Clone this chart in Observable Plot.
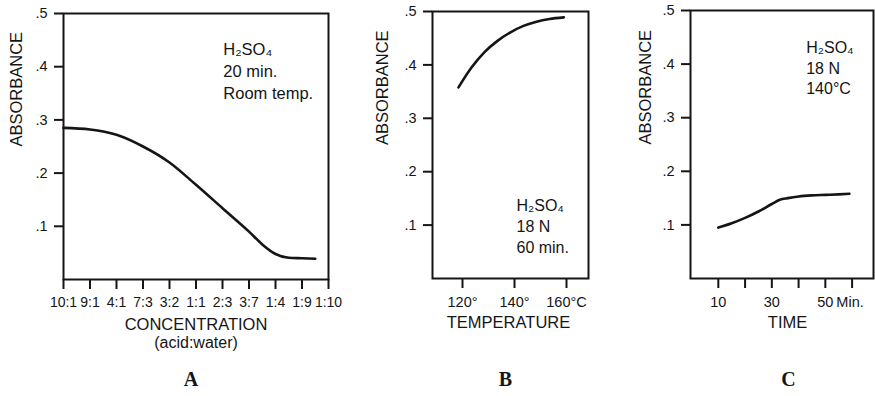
<!DOCTYPE html>
<html>
<head>
<meta charset="utf-8">
<script src="https://cdn.jsdelivr.net/npm/d3@7"></script>
<script src="https://cdn.jsdelivr.net/npm/@observablehq/plot@0.6"></script>
<style>
html, body { margin: 0; padding: 0; background: #fff; }
#root { position: relative; width: 875px; height: 396px; overflow: hidden; background: #fff; }
#root > svg { position: absolute; top: 0; }
</style>
</head>
<body>
<div id="root"></div>
<script>
// ---------- data ----------
const absTicks = [0.1, 0.2, 0.3, 0.4, 0.5];

// Panel A: absorbance vs acid:water concentration
const ratioLabels = ["10:1", "9:1", "4:1", "7:3", "3:2", "1:1", "2:3", "3:7", "1:4", "1:9", "1:10"];
const concPos = [0, 1, 2, 3, 4, 5, 6, 7, 7.5, 8, 8.5, 9, 9.5];
const concAbs = [0.285, 0.282, 0.272, 0.250, 0.220, 0.178, 0.134, 0.090, 0.066, 0.048, 0.041, 0.040, 0.039];
const noteA = "H₂SO₄\n20 min.\nRoom temp.";

// Panel B: absorbance vs temperature
const tempTicks = [120, 140, 160];
const tempLabels = ["120°", "140°", "160°C"];
const tempC = [120, 125, 130, 135, 140, 145, 150, 155, 160.5];
const tempAbs = [0.358, 0.395, 0.424, 0.445, 0.461, 0.473, 0.481, 0.486, 0.489];
const noteB = "H₂SO₄\n18 N\n60 min.";

// Panel C: absorbance vs time
const timeTicks = [10, 20, 30, 40, 50, 60];
const timeLabels = ["10", "", "30", "", "50", ""];
const timeMin = [10, 15, 20, 25, 30, 33, 36, 40, 45, 50, 55, 59];
const timeAbs = [0.095, 0.103, 0.113, 0.125, 0.139, 0.147, 0.150, 0.153, 0.155, 0.156, 0.157, 0.158];
const noteC = "H₂SO₄\n18 N\n140°C";

// ---------- styling ----------
const sans = "'Liberation Sans', Arial, Helvetica, sans-serif";
const serif = "'Liberation Serif', 'Times New Roman', serif";
const ink = "#151515";
const root = document.getElementById("root");

function yAxis() {
  return Plot.axisY({
    ticks: absTicks, tickSize: 9, tickPadding: 7, strokeWidth: 2, fontSize: 14.5,
    tickFormat: d => d3.format(".1f")(d).slice(1), label: null
  });
}
function absLabel(dx) {
  return Plot.text(["ABSORBANCE"], {text: d => d, frameAnchor: "left", rotate: -90, dx, fontSize: 16.5});
}
function letter(L, dx, dy) {
  return Plot.text([L], {text: d => d, frameAnchor: "bottom", dx, dy, fontFamily: serif, fontSize: 20, fontWeight: "bold"});
}
function place(svg, left) {
  svg.style.left = left + "px";
  root.appendChild(svg);
}

// ---------- Panel A ----------
place(Plot.plot({
  width: 355, height: 396,
  marginLeft: 63, marginRight: 27, marginTop: 13, marginBottom: 117,
  x: {domain: [0, 10]},
  y: {domain: [0, 0.5]},
  style: {fontFamily: sans, fontSize: "14px", color: ink, background: "transparent"},
  marks: [
    Plot.frame({strokeWidth: 2}),
    yAxis(),
    Plot.axisX({
      ticks: d3.range(ratioLabels.length), tickSize: 10, tickPadding: 8, strokeWidth: 2, fontSize: 14,
      tickFormat: i => ratioLabels[i], label: null
    }),
    Plot.line(concPos, {x: concPos, y: concAbs, curve: "monotone-x", strokeWidth: 2.6}),
    Plot.text([noteA], {text: d => d, x: () => 6.03, y: () => 0.3934, textAnchor: "start", lineAnchor: "middle", lineHeight: 1.33, fontSize: 16.5}),
    absLabel(-47),
    Plot.text(["CONCENTRATION"], {text: d => d, frameAnchor: "bottom", dy: 50.5, fontSize: 16.5}),
    Plot.text(["(acid:water)"], {text: d => d, frameAnchor: "bottom", dy: 68.5, fontSize: 16, letterSpacing: 1.2}),
    letter("A", -5, 106)
  ]
}), 0);

// ---------- Panel B ----------
place(Plot.plot({
  width: 240, height: 396,
  marginLeft: 72, marginRight: 12, marginTop: 11, marginBottom: 118,
  x: {domain: [110, 170]},
  y: {domain: [0, 0.5]},
  style: {fontFamily: sans, fontSize: "14px", color: ink, background: "transparent"},
  marks: [
    Plot.frame({strokeWidth: 2}),
    yAxis(),
    Plot.axisX({
      ticks: tempTicks, tickSize: 10, tickPadding: 8, strokeWidth: 2, fontSize: 14.5, dx: 4,
      tickFormat: t => tempLabels[tempTicks.indexOf(t)], label: null
    }),
    Plot.line(tempC, {x: tempC, y: tempAbs, curve: "monotone-x", strokeWidth: 2.6}),
    Plot.text([noteB], {text: d => d, x: () => 142.3, y: () => 0.1, textAnchor: "start", lineAnchor: "middle", lineHeight: 1.33, fontSize: 16}),
    absLabel(-50),
    Plot.text(["TEMPERATURE"], {text: d => d, frameAnchor: "bottom", dx: -2, dy: 49, fontSize: 16.5}),
    letter("B", -5, 107)
  ]
}), 360);

// ---------- Panel C ----------
place(Plot.plot({
  width: 255, height: 396,
  marginLeft: 70, marginRight: 2, marginTop: 10, marginBottom: 118,
  x: {domain: [-0.4, 68]},
  y: {domain: [0, 0.5]},
  style: {fontFamily: sans, fontSize: "14px", color: ink, background: "transparent"},
  marks: [
    Plot.frame({strokeWidth: 2}),
    yAxis(),
    Plot.axisX({
      ticks: timeTicks, tickSize: 10, tickPadding: 8, strokeWidth: 2, fontSize: 14.5,
      tickFormat: t => timeLabels[timeTicks.indexOf(t)], label: null
    }),
    Plot.text(["Min."], {text: d => d, x: () => 50, frameAnchor: "bottom", textAnchor: "start", lineAnchor: "top", dx: 11, dy: 18, fontSize: 14.5}),
    Plot.line(timeMin, {x: timeMin, y: timeAbs, curve: "monotone-x", strokeWidth: 2.6}),
    Plot.text([noteC], {text: d => d, x: () => 42.85, y: () => 0.3946, textAnchor: "start", lineAnchor: "middle", lineHeight: 1.27, fontSize: 16}),
    absLabel(-45),
    Plot.text(["TIME"], {text: d => d, frameAnchor: "bottom", dx: 5.5, dy: 49, fontSize: 16.5}),
    letter("C", 6.5, 107)
  ]
}), 620);
</script>
</body>
</html>
